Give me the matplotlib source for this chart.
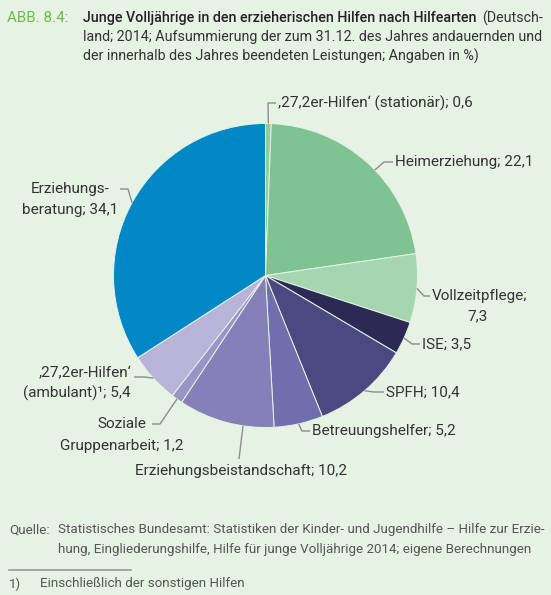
import numpy as np
import matplotlib
matplotlib.use("Agg")
import matplotlib.pyplot as plt

plt.rcParams["font.family"] = ["Roboto", "DejaVu Sans"]

W, H = 551, 595
BG = "#e6f2e4"
INK = "#333333"
SECOND = "#555555"
LEAD = "#8c8c8c"
GREEN = "#6dbb47"

# data, clockwise from 12 o'clock
categories = [
    ",27,2er-Hilfen‘ (stationär)", "Heimerziehung", "Vollzeitpflege", "ISE",
    "SPFH", "Betreuungshelfer", "Erziehungsbeistandschaft",
    "Soziale Gruppenarbeit", ",27,2er-Hilfen‘ (ambulant)¹", "Erziehungsberatung",
]
shares = [0.6, 22.1, 7.3, 3.5, 10.4, 5.2, 10.2, 1.2, 5.4, 34.1]
colors = ["#8fcd9e", "#80c393", "#a6d6b1", "#2c2a55", "#4b4a80",
          "#716eae", "#8581b8", "#9894c6", "#b8b4d9", "#0088c6"]

# pie geometry in pixels (y measured from top)
CX, CY, R = 265.5, 275.5, 152


def fy(py):
    return H - py


def edge(deg):
    a = np.radians(deg)
    return CX + R * np.sin(a), CY - R * np.cos(a)


def fmt(v):
    return f"{v:.1f}".replace(".", ",")


fig = plt.figure(figsize=(W / 100, H / 100), dpi=100)
fig.patch.set_facecolor(BG)
ax = fig.add_axes([0, 0, 1, 1])
ax.set_facecolor(BG)
fig.canvas.draw()
renderer = fig.canvas.get_renderer()


def width(s, fs, weight="normal"):
    t = fig.text(0, 0, s, fontsize=fs, fontweight=weight)
    w = t.get_window_extent(renderer).width
    t.remove()
    return w


def fit(s, target_px, weight="normal"):
    """Font size at which s renders target_px wide (reference font is condensed)."""
    return 10 * target_px / width(s, 10, weight)


ax.pie(shares, colors=colors, startangle=90, counterclock=False,
       center=(CX, fy(CY)), radius=R, frame=True,
       wedgeprops=dict(edgecolor="#e6f2e4", linewidth=0.7))
ax.set_xlim(0, W)
ax.set_ylim(0, H)
ax.axis("off")

# mid angles (clockwise from top) for leader anchors
cum = np.cumsum([0] + shares[:-1])
mids = [(c + s / 2) / 100 * 360 for c, s in zip(cum, shares)]

lv = [fmt(v) for v in shares]
FS_LAB = fit(f"{categories[6]}; {lv[6]}", 212)

# label layout: anchor angle, leader points, text lines (x, y, ha)
layout = [
    (mids[0], [(268, 103), (276, 103)],
     [(278, 103, "left", f"{categories[0]}; {lv[0]}")]),
    (46, [(384, 162), (393, 162)],
     [(395, 162, "left", f"{categories[1]}; {lv[1]}")]),
    (mids[2], [(424, 296), (430, 296)],
     [(432, 296, "left", f"{categories[2]};"), (478, 316, "center", lv[2])]),
    (mids[3], [(412, 344), (420, 344)],
     [(422, 344, "left", f"{categories[3]}; {lv[3]}")]),
    (mids[4], [(374, 392), (384, 392)],
     [(386, 392, "left", f"{categories[4]}; {lv[4]}")]),
    (mids[5], [(302, 431), (310, 431)],
     [(312, 431, "left", f"{categories[5]}; {lv[5]}")]),
    (188.5, [(239, 459)],
     [(241, 471, "center", f"{categories[6]}; {lv[6]}")]),
    (mids[7], [(160, 424), (152, 424)],
     [(122, 424, "center", "Soziale"),
      (122, 446, "center", f"Gruppenarbeit; {lv[7]}")]),
    (mids[8], [(144, 377), (134, 377)],
     [(131, 373, "right", ",27,2er-Hilfen‘"),
      (131, 393, "right", f"(ambulant)¹; {lv[8]}")]),
    (mids[9], [(128, 189), (120, 189)],
     [(70, 189, "center", "Erziehungs-"),
      (70, 210, "center", f"beratung; {lv[9]}")]),
]

for ang, pts, lines in layout:
    sx, sy = edge(ang)
    xs = [sx] + [p[0] for p in pts]
    ys = [fy(sy)] + [fy(p[1]) for p in pts]
    ax.plot(xs, ys, color=LEAD, lw=1.0, solid_capstyle="butt")
    for x, y, ha, s in lines:
        ax.text(x, fy(y), s, ha=ha, va="center", fontsize=FS_LAB, color=INK)

# header
title_bold = "Junge Volljährige in den erzieherischen Hilfen nach Hilfearten"
title_l2 = "land; 2014; Aufsummierung der zum 31.12. des Jahres andauernden und"
title_l3 = "der innerhalb des Jahres beendeten Leistungen; Angaben in %)"
FS_HEAD = fit(title_l2, 460)
room = 543 - 83 - width("(Deutsch-", FS_HEAD) - 5
FS_BOLD = min(FS_HEAD, fit(title_bold, room, "medium"))
ax.text(7, fy(18), "ABB. 8.4:", ha="left", va="center",
        fontsize=fit("ABB. 8.4:", 61), color=GREEN)
ax.text(83, fy(18), title_bold, ha="left", va="center",
        fontsize=FS_BOLD, fontweight="medium", color="#222222")
ax.text(543, fy(18), "(Deutsch-", ha="right", va="center", fontsize=FS_HEAD, color=INK)
ax.text(83, fy(37), title_l2, ha="left", va="center", fontsize=FS_HEAD, color=INK)
ax.text(83, fy(56), title_l3, ha="left", va="center", fontsize=FS_HEAD, color=INK)

# footer
src1 = "Statistisches Bundesamt: Statistiken der Kinder- und Jugendhilfe – Hilfe zur Erzie-"
src2 = "hung, Eingliederungshilfe, Hilfe für junge Volljährige 2014; eigene Berechnungen"
FS_FOOT = fit(src1, 485)
ax.text(9, fy(530), "Quelle:", ha="left", va="center", fontsize=FS_FOOT, color=SECOND)
ax.text(58, fy(530), src1, ha="left", va="center", fontsize=FS_FOOT, color=SECOND)
ax.text(58, fy(550), src2, ha="left", va="center", fontsize=FS_FOOT, color=SECOND)
ax.plot([9, 131], [fy(570), fy(570)], color="#9a9a9a", lw=1.2)
ax.text(9, fy(584), "1)", ha="left", va="center", fontsize=FS_FOOT, color=SECOND)
ax.text(40, fy(584), "Einschließlich der sonstigen Hilfen", ha="left", va="center",
        fontsize=FS_FOOT, color=SECOND)

fig.savefig("out.png", dpi=100, facecolor=BG)
